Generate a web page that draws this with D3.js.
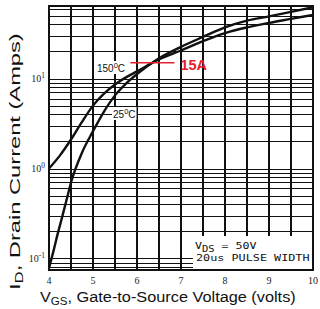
<!DOCTYPE html>
<html>
<head>
    <script src="https://d3js.org/d3.v7.min.js"></script>
    <style>
        body { margin: 0; background: #fff; }
        .grid line { stroke: #111; stroke-width: 1.3px; shape-rendering: crispEdges; }
        .curve { fill: none; stroke: #111; stroke-width: 2.4px; }
        .tick-label { font-family: "Liberation Serif", serif; font-size: 10px; fill: #222; }
        .title { font-family: "Liberation Sans", Arial, sans-serif; font-size: 15.5px; fill: #111; }
        .note { font-family: "DejaVu Sans Mono", monospace; font-size: 9.5px; fill: #111; }
        .temp { font-family: "Liberation Sans", Arial, sans-serif; font-size: 10px; fill: #111; }
    </style>
</head>
<body>
    <div id="chart"></div>
    <script>
        // gate voltage (V) and drain current (A)
        const vgs150 = [4.0, 4.25, 4.5, 4.75, 5.0, 5.25, 5.5, 5.75, 6.0, 6.5, 7.0, 7.5, 8.0, 8.5, 9.0, 9.5, 10.0];
        const id150  = [1.0, 1.4, 2.1, 3.3, 5.0, 6.8, 8.6, 10.3, 12.0, 16.3, 20.5, 26, 32, 37, 41.5, 46, 51];

        const vgs25 = [4.0, 4.1, 4.2, 4.3, 4.4, 4.5, 4.75, 5.0, 5.25, 5.5, 5.75, 6.0, 6.5, 7.0, 7.5, 8.0, 8.5, 9.0, 9.5, 10.0];
        const id25  = [0.078, 0.12, 0.19, 0.29, 0.45, 0.70, 1.5, 2.6, 4.3, 6.5, 8.8, 11.2, 16.8, 22.5, 29, 37, 44, 49, 55, 62];

        const xTicks = [4, 5, 6, 7, 8, 9, 10];
        const yTicks = [0.1, 1, 10];
        const yExp = ["-1", "0", "1"];
        const markLevel = 15;          // the red 15A marker
        const markRange = [5.85, 6.85];

        const W = 320, H = 309;
        const plot = { left: 49, right: 313, top: 6, bottom: 270 };

        const x = d3.scaleLinear().domain([4, 10]).range([plot.left, plot.right]);
        const y = d3.scaleLog().domain([0.0745, 64]).range([plot.bottom, plot.top]);

        const svg = d3.select("#chart").append("svg")
            .attr("width", W)
            .attr("height", H);

        // grid: every half volt, log minor steps
        const grid = svg.append("g").attr("class", "grid");
        grid.selectAll(".vx")
            .data(d3.range(4, 10.01, 0.5))
            .enter().append("line")
            .attr("x1", d => x(d)).attr("x2", d => x(d))
            .attr("y1", plot.top).attr("y2", plot.bottom);

        const logLines = y.ticks().filter(d => d > 0.0745 && d < 64);
        grid.selectAll(".hy")
            .data(logLines)
            .enter().append("line")
            .attr("x1", plot.left).attr("x2", plot.right)
            .attr("y1", d => Math.round(y(d)) + 0.5).attr("y2", d => Math.round(y(d)) + 0.5);

        // bottom-right note box covers the grid
        svg.append("rect")
            .attr("x", 193).attr("y", 236)
            .attr("width", plot.right - 193).attr("height", plot.bottom - 236)
            .attr("fill", "#fff");

        const line = d3.line()
            .x(d => x(d[0]))
            .y(d => y(d[1]))
            .curve(d3.curveMonotoneX);

        svg.append("path")
            .datum(vgs150.map((v, i) => [v, id150[i]]))
            .attr("class", "curve")
            .attr("d", line);

        svg.append("path")
            .datum(vgs25.map((v, i) => [v, id25[i]]))
            .attr("class", "curve")
            .attr("d", line);

        // frame
        svg.append("rect")
            .attr("x", plot.left).attr("y", plot.top)
            .attr("width", plot.right - plot.left).attr("height", plot.bottom - plot.top)
            .attr("fill", "none").attr("stroke", "#111").attr("stroke-width", 2);

        // temperature labels
        function tempLabel(tx, ty, num) {
            const g = svg.append("g");
            const t = g.append("text").attr("class", "temp").attr("x", tx).attr("y", ty);
            t.append("tspan").text(num);
            t.append("tspan").attr("dy", -4).attr("font-size", "7.5px").text("0");
            t.append("tspan").attr("dy", 4).text("C");
            const bb = t.node().getBBox();
            g.insert("rect", "text")
                .attr("x", bb.x - 1).attr("y", bb.y)
                .attr("width", bb.width + 2).attr("height", bb.height)
                .attr("fill", "#fff");
        }
        tempLabel(97, 72, "150");
        tempLabel(113, 118, "25");

        // 15A marker
        svg.append("line")
            .attr("x1", x(markRange[0])).attr("x2", x(markRange[1]))
            .attr("y1", y(markLevel)).attr("y2", y(markLevel))
            .attr("stroke", "#e3202b").attr("stroke-width", 1.6);
        svg.append("text")
            .attr("x", x(markRange[1]) + 6).attr("y", y(markLevel) + 7)
            .attr("font-family", "Liberation Sans, Arial, sans-serif")
            .attr("font-weight", "bold").attr("font-size", "14.5px")
            .attr("fill", "#e3202b")
            .text(markLevel + "A");

        // stretch a text horizontally to a given length (the scan is wide)
        function stretch(t, base, len) {
            const w = t.node().getBBox().width;
            t.attr("transform", base + " scale(" + (len / w) + ",1)");
        }

        // note text
        const vds = svg.append("text").attr("class", "note").attr("font-size", "10.5px");
        vds.append("tspan").text("V");
        vds.append("tspan").attr("dy", 2.5).attr("font-size", "8.5px").text("DS");
        vds.append("tspan").attr("dy", -2.5).text(" = 50V");
        stretch(vds, "translate(195,249)", 62);
        const pw = svg.append("text").attr("class", "note")
            .text("20us PULSE WIDTH");
        stretch(pw, "translate(196,261)", 114);

        // tick labels
        svg.selectAll(".xt")
            .data(xTicks)
            .enter().append("text")
            .attr("class", "tick-label")
            .attr("x", d => x(d)).attr("y", 284)
            .attr("text-anchor", "middle")
            .text(d => d);

        const yl = svg.selectAll(".yt")
            .data(yTicks)
            .enter().append("text")
            .attr("class", "tick-label")
            .attr("x", 45).attr("y", d => y(d) + 3.5)
            .attr("text-anchor", "end");
        yl.append("tspan").text("10");
        yl.append("tspan").attr("dy", -4).attr("font-size", "7.5px").text((d, i) => yExp[i]);

        // axis titles
        const xt = svg.append("text").attr("class", "title");
        xt.append("tspan").text("V");
        xt.append("tspan").attr("dy", 3).attr("font-size", "11px").text("GS");
        xt.append("tspan").attr("dy", -3).text(", Gate-to-Source Voltage (volts)");
        stretch(xt, "translate(40,302)", 256);

        const ytl = svg.append("text").attr("class", "title").attr("font-size", "16px");
        ytl.append("tspan").text("I");
        ytl.append("tspan").attr("dy", 3).attr("font-size", "11px").text("D");
        ytl.append("tspan").attr("dy", -3).text(", Drain Current (Amps)");
        stretch(ytl, "translate(20,290) rotate(-90)", 257);
    </script>
</body>
</html>
